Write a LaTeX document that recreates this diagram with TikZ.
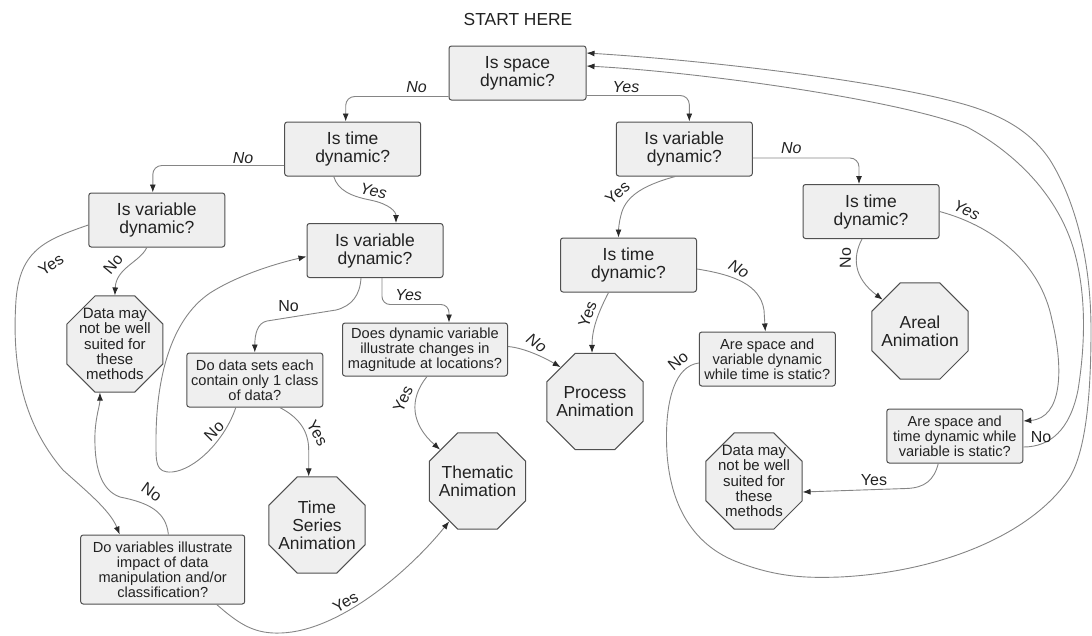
\documentclass[tikz,border=0pt]{standalone}
\usepackage{fontspec}
\setmainfont{Liberation Sans}
\usetikzlibrary{shapes.geometric,arrows.meta}
\definecolor{boxfill}{HTML}{EFEFEF}
\definecolor{boxline}{HTML}{505050}
\definecolor{edgegray}{HTML}{858585}
\definecolor{tipgray}{HTML}{2A2A2A}
\definecolor{inkgray}{HTML}{222222}
\newcommand{\qfont}{\fontsize{17.5}{18}\selectfont}
\newcommand{\sqfont}{\fontsize{14.6}{15}\selectfont}
\newcommand{\stopfont}{\fontsize{17.4}{18}\selectfont}
\newcommand{\sstopfont}{\fontsize{15}{15.3}\selectfont}
\newcommand{\ansfont}{\fontsize{16}{16}\selectfont}
\tikzstyle{question}=[draw=boxline,fill=boxfill,line width=1pt,rounded corners=2.5pt,align=center,inner sep=0pt,minimum width=136pt,minimum height=54pt,text=inkgray,font=\qfont]
\tikzstyle{smallq}=[question,font=\sqfont]
\tikzstyle{endstop}=[draw=boxline,fill=boxfill,line width=1pt,regular polygon,regular polygon sides=8,minimum size=104pt,inner sep=0pt]
\tikzstyle{stoptext}=[align=center,text=inkgray,font=\stopfont]
\tikzstyle{sstoptext}=[align=center,text=inkgray,font=\sstopfont]
\tikzstyle{answer}=[inner sep=0pt,text=inkgray,font=\ansfont\itshape]
\tikzstyle{answerup}=[inner sep=0pt,text=inkgray,font=\ansfont]
\tikzstyle{line}=[draw=edgegray,line width=0.9pt,-{Latex[length=8pt,width=6pt,color=tipgray]}]

\begin{document}
\begin{tikzpicture}[x=1pt,y=-1pt]
  \useasboundingbox (0,0) rectangle (1092,635);

  \node[text=inkgray,font=\stopfont] (start) at (518,19.5) {START HERE};

  % questions
  \node[question,minimum width=137pt] (space) at (517.5,73) {Is space\\dynamic?};
  \node[question] (timeL) at (352.7,149) {Is time\\dynamic?};
  \node[question] (varR) at (684.3,149) {Is variable\\dynamic?};
  \node[question] (varL) at (156.8,220) {Is variable\\dynamic?};
  \node[question] (varM) at (375,250.5) {Is variable\\dynamic?};
  \node[question] (timeR) at (871,211.5) {Is time\\dynamic?};
  \node[question] (timeM) at (628.5,265) {Is time\\dynamic?};
  \node[smallq] (classbox) at (254.8,380) {Do data sets each\\contain only 1 class\\of data?};
  \node[smallq,minimum width=165pt,minimum height=53pt] (magbox) at (425,349.5) {Does dynamic variable\\illustrate changes in\\magnitude at locations?};
  \node[smallq,minimum width=164pt,minimum height=69pt] (impactbox) at (162.7,569.5) {Do variables illustrate\\impact of data\\manipulation and/or\\classification?};
  \node[smallq] (spacevarbox) at (767.3,359) {Are space and\\variable dynamic\\while time is static?};
  \node[smallq] (spacetimebox) at (954.8,436) {Are space and\\time dynamic while\\variable is static?};

  % end points
  \node[endstop,label={[sstoptext]center:{Data may\\not be well\\suited for\\these\\methods}}] (unsuitL) at (114.9,344) {};
  \node[endstop,label={[stoptext]center:{Time\\Series\\Animation}}] (series) at (317,525) {};
  \node[endstop,label={[stoptext]center:{Thematic\\Animation}}] (thematic) at (477.5,481) {};
  \node[endstop,label={[stoptext]center:{Process\\Animation}}] (process) at (595,401.5) {};
  \node[endstop,label={[stoptext]center:{Areal\\Animation}}] (areal) at (920,331) {};
  \node[endstop,label={[sstoptext]center:{Data may\\not be well\\suited for\\these\\methods}}] (unsuitR) at (754,481) {};

  % connectors
  \draw[line,rounded corners=9pt] ([yshift=4pt]space.south west) -| ([xshift=-7pt]timeL.north);
  \draw[line,rounded corners=9pt] ([yshift=5pt]space.south east) -| ([xshift=5pt]varR.north);
  \draw[line,rounded corners=9pt] ([yshift=11pt]timeL.south west) -| ([xshift=-4pt]varL.north);
  \draw[line,rounded corners=9pt] ([yshift=-9pt]varR.east) -| ([xshift=-12pt]timeR.north);
  \draw[line] ([xshift=-19pt]timeL.south) .. controls (338,190) and (350,196) .. (370,200)
    .. controls (390,204) and (396,212) .. ([xshift=21pt]varM.north);
  \draw[line] ([yshift=-5pt]varL.west) .. controls (45,240) and (20,250) .. (16,300)
    .. controls (12,360) and (20,420) .. (63,470)
    .. controls (85,490) and (110,510) .. ([xshift=-43pt]impactbox.north);
  \draw[line] ([xshift=-10pt]varL.south) .. controls (140,262) and (116,268) .. (unsuitL.north);
  \draw[line] ([xshift=-14pt]varM.south) .. controls (360,295) and (352,306) .. (336,310)
    -- (267,321) .. controls (257,323) and (254.8,335) .. (classbox.north);
  \draw[line,rounded corners=8pt] ([xshift=7pt]varM.south) |- ([xshift=24pt,yshift=18pt]magbox.north) -- ([xshift=24pt]magbox.north);
  \draw[line] ([xshift=-19pt]classbox.south) .. controls (225,440) and (195,470) .. (172,472)
    .. controls (155,473) and (156,462) .. (156,440)
    .. controls (156,380) and (170,320) .. (210,293)
    .. controls (235,277) and (270,265) .. ([yshift=-6pt]varM.west);
  \draw[line] ([xshift=25pt]classbox.south) .. controls (300,418) and (308.7,432) .. (308.7,450)
    -- ([xshift=-8.3pt]series.north);
  \draw[line] ([xshift=2pt]magbox.south) .. controls (408,400) and (412,425) .. (thematic.140);
  \draw[line] ([yshift=3pt]magbox.east) .. controls (525,348) and (545,358) .. (process.135);
  \draw[line] ([xshift=5.7pt]impactbox.north) .. controls (166,512) and (150,503) .. (120,497)
    .. controls (100,490) and (94,465) .. (95,433)
    .. controls (96,415) and (100,405) .. ([xshift=-15pt]unsuitL.south);
  \draw[line] ([xshift=54pt]impactbox.south) .. controls (240,625) and (255,634) .. (281,633)
    .. controls (340,631) and (410,570) .. (thematic.235);
  \draw[line] ([xshift=-9pt]varR.south) .. controls (640,186) and (625,198) .. (621,215)
    .. controls (619,222) and (618.5,230) .. ([xshift=-10pt]timeM.north);
  \draw[line] ([yshift=-4pt]timeM.east) .. controls (735,275) and (760,285) .. (764,310)
    -- ([xshift=-2pt]spacevarbox.north);
  \draw[line] ([xshift=-20pt]timeM.south) .. controls (597,315) and (592,330) .. ([xshift=-3pt]process.north);
  \draw[line] ([xshift=-9pt]timeR.south) .. controls (852,258) and (854,278) .. (areal.140);
  \draw[line] (timeR.east) .. controls (990,225) and (1040,260) .. (1052,320)
    .. controls (1064,370) and (1062,418) .. ([yshift=15pt]spacetimebox.east);
  \draw[line] ([xshift=-16.5pt]spacetimebox.south) .. controls (934,480) and (925,488) .. (906,488.5)
    -- ([yshift=-11pt]unsuitR.east);
  \draw[line] ([yshift=-11pt]spacetimebox.east) .. controls (1050,447) and (1070,430) .. (1078,390)
    .. controls (1086,340) and (1086,290) .. (1073,247)
    .. controls (1055,190) and (1010,150) .. (967,127)
    .. controls (900,100) and (700,72) .. ([yshift=7pt]space.east);
  \draw[line] ([yshift=-4pt]spacevarbox.west) .. controls (675,366) and (666,400) .. (666.5,440)
    .. controls (667,500) and (690,545) .. (740,563)
    .. controls (780,578) and (810,578) .. (840,577)
    .. controls (940,572) and (1030,535) .. (1068,480)
    .. controls (1085,455) and (1091,400) .. (1091,330)
    .. controls (1091,260) and (1075,200) .. (1050,160)
    .. controls (1030,130) and (1000,115) .. (966.7,105)
    .. controls (880,80) and (700,60) .. ([yshift=20pt]space.east);

  % answers
  \node[answer] (no1) at (416.5,87) {No};
  \node[answer] (yes1) at (626,87) {Yes};
  \node[answer] (no2) at (243,158) {No};
  \node[answer,rotate=-12] (yes2) at (373.5,191) {Yes};
  \node[answerup,rotate=35] (yes3) at (51,265) {Yes};
  \node[answerup,rotate=50] (no3) at (113,264) {No};
  \node[answerup] (no4) at (288.5,306) {No};
  \node[answer] (yes4) at (408.6,295) {Yes};
  \node[answerup,rotate=45] (no5) at (214,431) {No};
  \node[answerup,rotate=-60] (yes5) at (317.4,433) {Yes};
  \node[answerup,rotate=65] (yes6) at (403,399) {Yes};
  \node[answer,rotate=-35] (no6) at (536.6,343) {No};
  \node[answerup,rotate=-35] (no7) at (151.7,492) {No};
  \node[answerup,rotate=30] (yes7) at (345.5,602) {Yes};
  \node[answerup,rotate=40] (yes8) at (617.5,193) {Yes};
  \node[answer] (no8) at (791.3,148) {No};
  \node[answer,rotate=-30] (no9) at (739,269) {No};
  \node[answerup,rotate=70] (yes9) at (587.5,314) {Yes};
  \node[answerup,rotate=90] (no10) at (845.4,258) {No};
  \node[answer,rotate=-25] (yes10) at (966.7,210) {Yes};
  \node[answerup] (yes11) at (874,480) {Yes};
  \node[answerup] (no11) at (1041,437) {No};
  \node[answerup,rotate=40] (no12) at (678,361) {No};
\end{tikzpicture}
\end{document}
